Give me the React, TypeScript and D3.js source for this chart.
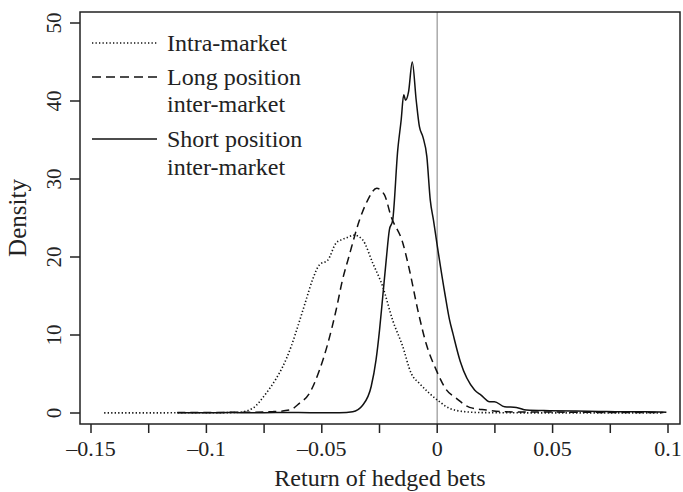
import React from "react";
import * as d3 from "d3";

const W = 683;
const H = 492;

const xTickMajor = [-0.15, -0.1, -0.05, 0, 0.05, 0.1];
const xTickLabels = ["\u20130.15", "\u20130.1", "\u20130.05", "0", "0.05", "0.1"];
const xTickMinor = [-0.125, -0.075, -0.025, 0.025, 0.075];
const yTicks = [0, 10, 20, 30, 40, 50];

const intraX = [-0.1443, -0.13, -0.12, -0.11, -0.1, -0.09, -0.0857, -0.08, -0.0742, -0.07, -0.067, -0.0633, -0.0604, -0.0568, -0.054, -0.051, -0.0474, -0.0438, -0.0416, -0.039, -0.0359, -0.0323, -0.0279, -0.0236, -0.0193, -0.0149, -0.0113, -0.0077, -0.0033, 0.001, 0.0053, 0.0126, 0.02, 0.03, 0.04, 0.05, 0.06, 0.07, 0.08, 0.09, 0.098];
const intraY = [0.02, 0.02, 0.02, 0.03, 0.03, 0.05, 0.1, 0.6, 2.5, 4.3, 5.9, 8.5, 11.1, 14.5, 17.1, 19.0, 19.6, 21.8, 22.2, 22.5, 22.8, 22.2, 19.2, 16.2, 11.9, 8.5, 5.1, 3.8, 2.5, 1.45, 0.6, 0.15, 0.05, 0.03, 0.02, 0.02, 0.02, 0.01, 0.01, 0.01, 0.01];

const longX = [-0.1126, -0.1, -0.09, -0.08, -0.0713, -0.064, -0.0597, -0.0554, -0.051, -0.0474, -0.0438, -0.041, -0.0383, -0.0337, -0.0301, -0.0262, -0.0229, -0.02, -0.0149, -0.012, -0.0084, -0.0048, -0.0004, 0.0039, 0.0082, 0.014, 0.0212, 0.03, 0.04, 0.05, 0.06, 0.07, 0.08, 0.09, 0.098];
const longY = [0.05, 0.05, 0.08, 0.1, 0.17, 0.38, 1.24, 2.5, 5.5, 8.9, 13.2, 17.1, 20.0, 24.7, 27.3, 28.8, 28.0, 25.2, 21.8, 18.3, 13.2, 8.9, 5.5, 3.0, 1.9, 0.72, 0.38, 0.15, 0.12, 0.12, 0.1, 0.08, 0.06, 0.05, 0.05];

const shortX = [-0.1126, -0.1, -0.09, -0.08, -0.07, -0.06, -0.05, -0.0424, -0.0366, -0.0323, -0.0286, -0.0265, -0.025, -0.0236, -0.0221, -0.0207, -0.0193, -0.0171, -0.0156, -0.0145, -0.0137, -0.0124, -0.0108, -0.0091, -0.0077, -0.0062, -0.0045, -0.003, -0.0016, 0.0, 0.0035, 0.0053, 0.0068, 0.01, 0.0162, 0.019, 0.0227, 0.0248, 0.0292, 0.0343, 0.0386, 0.0487, 0.06, 0.07, 0.08, 0.09, 0.0993];
const shortY = [0.02, 0.03, 0.05, 0.03, 0.05, 0.05, 0.02, 0.04, 0.17, 1.0, 3.4, 6.8, 10.6, 14.9, 19.6, 23.5, 24.7, 33.7, 37.6, 40.8, 40.1, 41.2, 45.0, 40.1, 36.7, 35.4, 32.9, 27.3, 24.7, 21.5, 15.0, 12.0, 10.2, 6.6, 2.95, 2.3, 1.45, 1.45, 0.8, 0.72, 0.38, 0.3, 0.25, 0.2, 0.15, 0.15, 0.1];

const seriesNames = ["Intra-market", "Long position", "Short position"];

const FONT = "'Liberation Serif', 'DejaVu Serif', serif";

export default function App() {
  const left = 80, right = 680, top = 12, bottom = 424;
  const x = d3.scaleLinear().domain([-0.15, 0.1]).range([91, 668]);
  const y = d3.scaleLinear().domain([0, 50]).range([413, 23]);
  const line = d3
    .line<[number, number]>()
    .x((d) => x(d[0]))
    .y((d) => y(d[1]))
    .curve(d3.curveMonotoneX);
  const zip = (a: number[], b: number[]) => a.map((v, i) => [v, b[i]] as [number, number]);

  const series = [
    { name: seriesNames[0], pts: zip(intraX, intraY), dash: "1.3,2.2", w: 1.6 },
    { name: seriesNames[1], pts: zip(longX, longY), dash: "8,5", w: 1.5 },
    { name: seriesNames[2], pts: zip(shortX, shortY), dash: "none", w: 1.5 },
  ];

  return (
    <svg
      width={W}
      height={H}
      style={{ position: "absolute", left: 0, top: 0, background: "#fff" }}
      fontFamily={FONT}
    >
      <rect x={0} y={0} width={W} height={H} fill="#fff" />
      <line x1={x(0)} x2={x(0)} y1={top} y2={bottom} stroke="#aaa" strokeWidth={1.5} />
      {series.map((s, i) => (
        <path
          key={i}
          d={line(s.pts) || ""}
          fill="none"
          stroke="#111"
          strokeWidth={s.w}
          strokeDasharray={s.dash}
          strokeLinejoin="round"
        />
      ))}
      <rect x={left} y={top} width={right - left} height={bottom - top} fill="none" stroke="#222" strokeWidth={1.5} />
      {xTickMajor.concat(xTickMinor).map((t, i) => (
        <line key={"xt" + i} x1={x(t)} x2={x(t)} y1={bottom} y2={bottom + 9} stroke="#222" strokeWidth={1.5} />
      ))}
      {xTickMajor.map((t, i) => (
        <text key={"xl" + i} x={x(t)} y={456} textAnchor="middle" fontSize={22} fill="#222">
          {xTickLabels[i]}
        </text>
      ))}
      {yTicks.map((t, i) => (
        <g key={"yt" + i}>
          <line x1={left - 10} x2={left} y1={y(t)} y2={y(t)} stroke="#222" strokeWidth={1.5} />
          <text
            transform={`translate(61,${y(t)}) rotate(-90)`}
            textAnchor="middle"
            fontSize={21}
            fill="#222"
          >
            {t}
          </text>
        </g>
      ))}
      <text x={(left + right) / 2} y={486} textAnchor="middle" fontSize={24} fill="#222">
        Return of hedged bets
      </text>
      <text transform={`translate(26,${(top + bottom) / 2}) rotate(-90)`} textAnchor="middle" fontSize={25} fill="#222">
        Density
      </text>
      <line x1={92} x2={157} y1={43} y2={43} stroke="#111" strokeWidth={1.6} strokeDasharray="1.3,2.2" />
      <line x1={92} x2={157} y1={77} y2={77} stroke="#111" strokeWidth={1.5} strokeDasharray="9,5" />
      <line x1={92} x2={157} y1={139} y2={139} stroke="#111" strokeWidth={1.5} />
      <text x={167} y={51} fontSize={24} fill="#222">{seriesNames[0]}</text>
      <text x={167} y={85} fontSize={24} fill="#222">{seriesNames[1]}</text>
      <text x={167} y={112} fontSize={24} fill="#222">inter-market</text>
      <text x={167} y={147} fontSize={24} fill="#222">{seriesNames[2]}</text>
      <text x={167} y={175} fontSize={24} fill="#222">inter-market</text>
    </svg>
  );
}
